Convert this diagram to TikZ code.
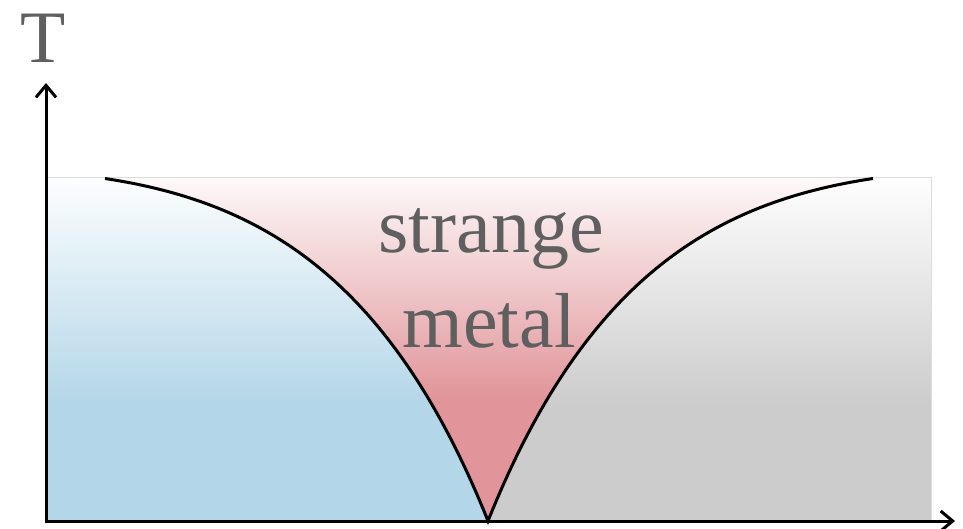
\documentclass[tikz,border=0pt]{standalone}
\usepackage{fontspec}
\setmainfont{Liberation Serif}
\usetikzlibrary{arrows.meta}
\definecolor{phaseblue}{RGB}{179,214,232}
\definecolor{phasered}{RGB}{225,149,154}
\definecolor{phasegray}{RGB}{204,204,204}
\definecolor{labelgray}{RGB}{95,95,95}
\definecolor{framegray}{RGB}{220,220,220}
\pgfdeclareverticalshading{blueshade}{100bp}{color(0bp)=(phaseblue); color(42bp)=(phaseblue); color(75bp)=(white!96!phaseblue); color(100bp)=(white)}
\pgfdeclareverticalshading{redshade}{100bp}{color(0bp)=(phasered); color(43bp)=(phasered); color(75bp)=(white!94!phasered); color(100bp)=(white)}
\pgfdeclareverticalshading{grayshade}{100bp}{color(0bp)=(phasegray); color(42bp)=(phasegray); color(75bp)=(white!98!phasegray); color(100bp)=(white)}
\begin{document}
\begin{tikzpicture}[x=0.5pt,y=-0.5pt,
  axis/.style={line width=1.5pt, {Straight Barb[length=6pt,width=10pt]}-{Straight Barb[length=6pt,width=10pt]}},
  boundary/.style={line width=1.5pt},
  lbl/.style={text=labelgray, font=\fontsize{39}{46}\selectfont, inner sep=0pt},
  axislbl/.style={text=labelgray, font=\fontsize{37}{42}\selectfont, inner sep=0pt}]
\useasboundingbox (0,0) rectangle (963,529);
\coordinate (O) at (46,521);
\coordinate (TL) at (46,178);
\coordinate (TR) at (931,178);
\coordinate (BR) at (931,521);
\coordinate (QCP) at (488,521);
\coordinate (LT) at (105,178.5);
\coordinate (RT) at (873,178.5);
\coordinate (Yend) at (46,83);
\coordinate (Xend) at (955,521);
% phase regions
\shade[shading=blueshade] (O) -- (TL) -- (LT) .. controls (255,201.5) and (388,271) .. (QCP) -- cycle;
\shade[shading=redshade] (LT) -- (RT) .. controls (721,201.5) and (588,271) .. (QCP) .. controls (388,271) and (255,201.5) .. (LT) -- cycle;
\shade[shading=grayshade] (RT) -- (TR) -- (BR) -- (QCP) .. controls (588,271) and (721,201.5) .. (RT) -- cycle;
\draw[framegray, line width=0.5pt] (TL) -- (TR) -- (BR);
% crossover lines
\draw[boundary] (LT) .. controls (255,201.5) and (388,271) .. (QCP) .. controls (588,271) and (721,201.5) .. (RT);
% axes
\draw[axis] (Yend) -- (O) -- (Xend);
% labels
\node[axislbl, anchor=base] (tlabel) at (43.5,63) {T};
\node[lbl, anchor=base] (strange) at (491,252) {strange};
\node[lbl, anchor=base] (metal) at (489,347) {metal};
\end{tikzpicture}
\end{document}
